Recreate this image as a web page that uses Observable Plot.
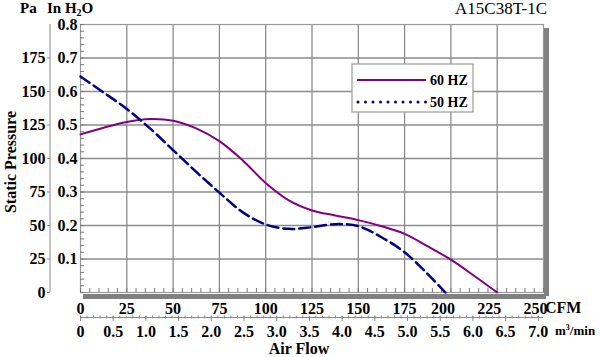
<!DOCTYPE html>
<html>
<head>
<meta charset="utf-8">
<script src="https://cdn.jsdelivr.net/npm/d3@7"></script>
<script src="https://cdn.jsdelivr.net/npm/@observablehq/plot@0.6"></script>
<style>
  html, body { margin: 0; padding: 0; background: #fff; }
  #chart svg { display: block; }
</style>
</head>
<body>
<div id="chart"></div>
<script>
// ---- data ----
const cfm60 = [0, 12.5, 25, 37.5, 50, 62.5, 75, 87.5, 100, 112.5, 125, 137.5, 150, 162.5, 175, 187.5, 200, 212.5, 225];
const h2o60 = [0.472, 0.492, 0.509, 0.518, 0.513, 0.49, 0.452, 0.395, 0.327, 0.275, 0.245, 0.23, 0.216, 0.198, 0.175, 0.138, 0.098, 0.05, 0];
const cfm50 = [0, 12.5, 25, 37.5, 50, 62.5, 75, 87.5, 100, 112.5, 125, 137.5, 150, 162.5, 175, 187.5, 197];
const h2o50 = [0.645, 0.597, 0.548, 0.49, 0.425, 0.36, 0.298, 0.24, 0.203, 0.19, 0.195, 0.204, 0.198, 0.165, 0.12, 0.055, 0];

const cfmTicks = [0, 25, 50, 75, 100, 125, 150, 175, 200, 225, 250];
const h2oTicks = [0.1, 0.2, 0.3, 0.4, 0.5, 0.6, 0.7, 0.8];
const paTickPos = [0, 0.1, 0.2, 0.3, 0.4, 0.5, 0.6, 0.7];
const paLabels = ["0", "25", "50", "75", "100", "125", "150", "175"];
const m3Ticks = [0, 0.5, 1.0, 1.5, 2.0, 2.5, 3.0, 3.5, 4.0, 4.5, 5.0, 5.5, 6.0, 6.5, 7.0];
const m3Labels = ["0", "0.5", "1.0", "1.5", "2.0", "2.5", "3.0", "3.5", "4.0", "4.5", "5.0", "5.5", "6.0", "6.5", "7.0"];
const CFM_PER_M3 = 35.3147;
const seriesNames = ["60 HZ", "50 HZ"];
const titleText = "A15C38T-1C";

const data60 = cfm60.map((x, i) => ({x, y: h2o60[i]}));
const data50 = cfm50.map((x, i) => ({x, y: h2o50[i]}));

const gridX = cfmTicks.slice(1, -1);
const gridY = h2oTicks.slice(0, -1);
const minorY = d3.range(0, 41).map(i => i * 0.02);
const minorX = d3.range(0, 51).map(i => i * 5);
const m3Minor = d3.range(0, 71).map(i => i / 10 * CFM_PER_M3);

const font = "'Liberation Serif', 'Times New Roman', serif";
const gridColor = "#8c8c8c";

const chart = Plot.plot({
  width: 600,
  height: 357,
  marginTop: 24,
  marginBottom: 65,
  marginLeft: 80,
  marginRight: 57,
  style: {fontFamily: font, fontWeight: "bold", fontSize: "16px", background: "#fff", overflow: "visible"},
  x: {domain: [0, 250], axis: null},
  y: {domain: [0, 0.8], axis: null},
  marks: [
    // grid
    Plot.ruleX(gridX, {stroke: gridColor, strokeWidth: 1.3}),
    Plot.ruleY(gridY, {stroke: gridColor, strokeWidth: 1.3}),
    // 3D shadow
    Plot.ruleY([0], {x1: 0, x2: 250, dx: 3, dy: 4, stroke: "#808080", strokeWidth: 5}),
    Plot.ruleX([250], {y1: 0, y2: 0.8, dx: 3, dy: 4, stroke: "#808080", strokeWidth: 5}),
    Plot.frame({stroke: "#999", fill: "none", strokeWidth: 1.2}),
    // minor ticks inside the frame
    Plot.axisY({ticks: minorY, tickSize: -4, tickFormat: () => "", stroke: "#777", label: null}),
    Plot.axisX({ticks: minorX, tickSize: -4, tickFormat: () => "", stroke: "#777", anchor: "bottom", label: null}),
    // inH2O labels
    Plot.axisY({ticks: h2oTicks, tickSize: 0, tickPadding: 3, tickFormat: d => d3.format(".1f")(d), fill: "#000", fontSize: 16, label: null}),
    // Pa axis
    Plot.ruleX([0], {y1: 0, y2: 0.8, dx: -30.5, stroke: "#888", strokeWidth: 1}),
    Plot.axisY({ticks: paTickPos, tickSize: 3, tickPadding: 2, dx: -30, stroke: "#888", label: null,
      tickFormat: d => paLabels[paTickPos.findIndex(p => Math.abs(p - d) < 1e-9)], fill: "#000", fontSize: 16}),
    // CFM labels
    Plot.axisX({ticks: cfmTicks.slice(0, 8), tickSize: 0, tickPadding: 10, anchor: "bottom", fill: "#000", fontSize: 16, label: null}),
    Plot.axisX({ticks: cfmTicks.slice(8), tickSize: 0, tickPadding: 10, anchor: "bottom", dx: -8, fill: "#000", fontSize: 16, label: null}),
    // m3/min axis
    Plot.ruleY([0], {x1: 0, x2: 250, dy: 25, stroke: "#888", strokeWidth: 1}),
    Plot.axisX({ticks: m3Minor, tickSize: 3, anchor: "bottom", dy: 23.5, tickFormat: () => "", stroke: "#888", label: null}),
    Plot.axisX({ticks: m3Ticks.map(m => m * CFM_PER_M3), tickSize: 5, tickPadding: 4, anchor: "bottom", dy: 24,
      stroke: "#888", fill: "#000", fontSize: 16, label: null,
      tickFormat: d => m3Labels[m3Ticks.findIndex(m => Math.abs(m * CFM_PER_M3 - d) < 1e-6)]}),
    // curves
    Plot.line(data60, {x: "x", y: "y", stroke: "#800080", strokeWidth: 2, curve: "catmull-rom"}),
    Plot.line(data50, {x: "x", y: "y", stroke: "#000080", strokeWidth: 2.5, strokeDasharray: "11,5", curve: "catmull-rom"})
  ]
});

document.getElementById("chart").appendChild(chart);

// ---- annotations ----
const svg = d3.select(chart);
const g = svg.append("g").attr("font-family", font).attr("fill", "#000").attr("text-anchor", "start");

// header units
const hdr = g.append("text").attr("x", 20).attr("y", 13).attr("font-size", 15).attr("font-weight", "bold");
hdr.append("tspan").text("Pa");
hdr.append("tspan").attr("x", 47).text("In H");
hdr.append("tspan").attr("font-size", 10).attr("dy", 3).text("2");
hdr.append("tspan").attr("dy", -3).text("O");

// title
g.append("text").attr("x", 547).attr("y", 14).attr("text-anchor", "end")
  .attr("font-size", 17).attr("font-weight", "normal").text(titleText);

// y title
g.append("text").attr("transform", "translate(16,162) rotate(-90)").attr("text-anchor", "middle")
  .attr("font-size", 16).attr("font-weight", "bold").text("Static Pressure");

// x title
g.append("text").attr("x", 299).attr("y", 354).attr("text-anchor", "middle")
  .attr("font-size", 16).attr("font-weight", "bold").text("Air Flow");

// unit labels
g.append("text").attr("x", 545).attr("y", 313).attr("font-size", 16).attr("font-weight", "bold").text("CFM");
const m3 = g.append("text").attr("x", 555).attr("y", 335).attr("font-size", 13).attr("font-weight", "bold");
m3.append("tspan").text("m");
m3.append("tspan").attr("font-size", 8).attr("dy", -5).text("3");
m3.append("tspan").attr("dy", 5).text("/min");

// legend
const lg = g.append("g");
lg.append("rect").attr("x", 352).attr("y", 64).attr("width", 121).attr("height", 48)
  .attr("fill", "#fff").attr("stroke", "#999").attr("stroke-width", 1.2);
lg.append("line").attr("x1", 357).attr("x2", 426).attr("y1", 80).attr("y2", 80)
  .attr("stroke", "#800080").attr("stroke-width", 2);
lg.append("line").attr("x1", 358).attr("x2", 426).attr("y1", 102).attr("y2", 102)
  .attr("stroke", "#000080").attr("stroke-width", 3).attr("stroke-dasharray", "0,7.5").attr("stroke-linecap", "round");
lg.append("text").attr("x", 430).attr("y", 85).attr("font-size", 14).attr("font-weight", "bold").text(seriesNames[0]);
lg.append("text").attr("x", 430).attr("y", 107).attr("font-size", 14).attr("font-weight", "bold").text(seriesNames[1]);
</script>
</body>
</html>
